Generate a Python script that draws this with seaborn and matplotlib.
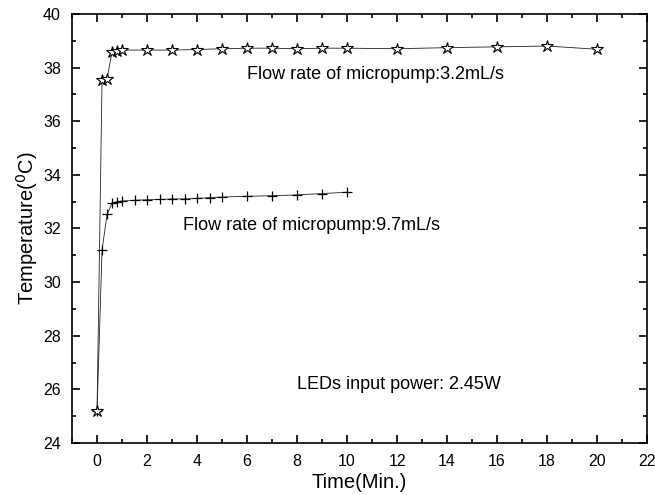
import matplotlib
matplotlib.use("Agg")
import matplotlib.pyplot as plt
import seaborn as sns
from matplotlib.ticker import MultipleLocator

# Data
time_32 = [0, 0.2, 0.4, 0.6, 0.8, 1, 2, 3, 4, 5, 6, 7, 8, 9, 10, 12, 14, 16, 18, 20]
temp_32 = [25.2, 37.55, 37.58, 38.58, 38.6, 38.65, 38.65, 38.65, 38.67, 38.7, 38.72, 38.72,
           38.7, 38.72, 38.72, 38.7, 38.74, 38.77, 38.8, 38.68]
time_97 = [0, 0.2, 0.4, 0.6, 0.8, 1, 1.5, 2, 2.5, 3, 3.5, 4, 4.5, 5, 6, 7, 8, 9, 10]
temp_97 = [25.2, 31.2, 32.52, 32.95, 33.0, 33.02, 33.05, 33.07, 33.08, 33.1, 33.1, 33.12,
           33.15, 33.17, 33.2, 33.22, 33.25, 33.3, 33.35]

sns.set_style("ticks", {"text.color": "black", "axes.labelcolor": "black",
                        "xtick.color": "black", "ytick.color": "black",
                        "axes.edgecolor": "black"})
plt.rcParams['font.family'] = ['Liberation Sans', 'DejaVu Sans']

fig = plt.figure(figsize=(6.55, 4.95), dpi=100)
ax = fig.add_axes([0.11, 0.105, 0.878, 0.867])

sns.lineplot(x=time_97, y=temp_97, ax=ax, color='#222222', linewidth=0.6,
             marker='+', markersize=7, markeredgecolor='black',
             markeredgewidth=0.9)
sns.lineplot(x=time_32, y=temp_32, ax=ax, color='#222222', linewidth=0.6,
             marker='*', markersize=9, markerfacecolor='white',
             markeredgecolor='black', markeredgewidth=0.8)

ax.set_xlim(-1, 22)
ax.set_ylim(24, 40)
ax.xaxis.set_major_locator(MultipleLocator(2))
ax.xaxis.set_minor_locator(MultipleLocator(1))
ax.yaxis.set_major_locator(MultipleLocator(2))
ax.yaxis.set_minor_locator(MultipleLocator(1))
ax.tick_params(which='both', direction='in', top=True, right=True, width=1.2,
               colors='black')
ax.tick_params(which='major', length=6, labelsize=11.5)
ax.tick_params(which='minor', length=3)
ax.tick_params(axis='y', which='major', pad=8)
ax.tick_params(axis='x', which='major', pad=8)
for s in ax.spines.values():
    s.set_linewidth(1.2)
    s.set_visible(True)
    s.set_color('black')

ax.set_xlabel("Time(Min.)", fontsize=14.5, labelpad=3, color='black')
ax.set_ylabel("Temperature($^0$C)", fontsize=14.5, labelpad=2, color='black')

ax.text(6.0, 37.75, "Flow rate of micropump:3.2mL/s", fontsize=13, va='center', color='black')
ax.text(3.45, 32.1, "Flow rate of micropump:9.7mL/s", fontsize=13, va='center', color='black')
ax.text(8.0, 26.2, "LEDs input power: 2.45W", fontsize=13, va='center', color='black')

fig.savefig("out.png", dpi=100)
